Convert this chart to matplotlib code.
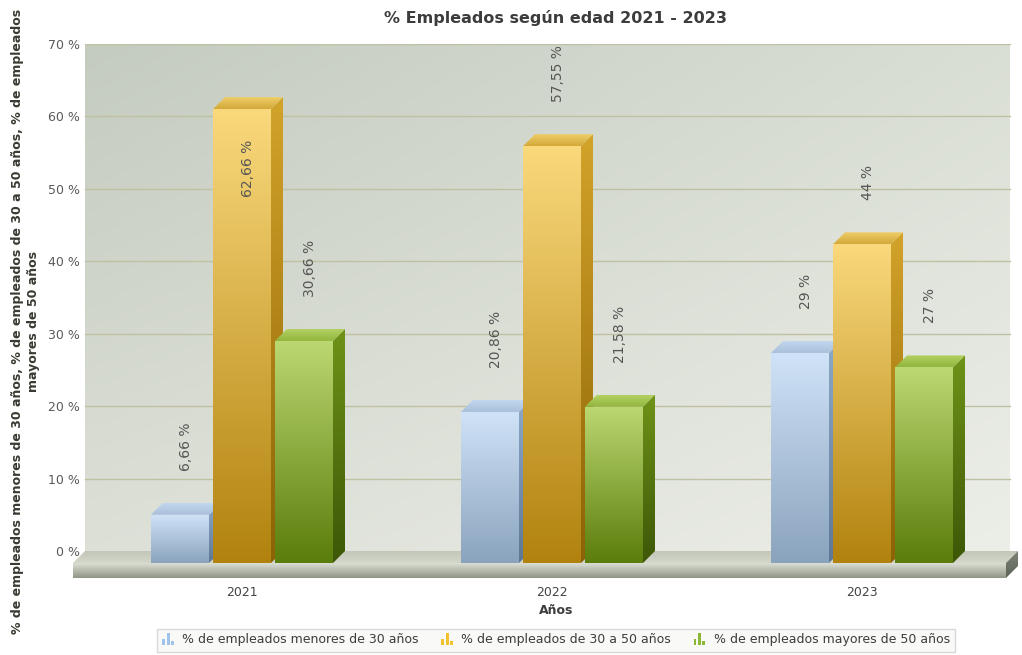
import numpy as np
import matplotlib
matplotlib.use("Agg")
import matplotlib.pyplot as plt
from matplotlib.patches import Polygon, Rectangle
from matplotlib.colors import LinearSegmentedColormap, to_rgb
from matplotlib.legend_handler import HandlerBase

# ---- datos ----
anios = ["2021", "2022", "2023"]
series = [
    "% de empleados menores de 30 años",
    "% de empleados de 30 a 50 años",
    "% de empleados mayores de 50 años",
]
menores_30 = [6.66, 20.86, 29]
de_30_a_50 = [62.66, 57.55, 44]
mayores_50 = [30.66, 21.58, 27]
valores = [menores_30, de_30_a_50, mayores_50]
etiquetas = [
    ["6,66 %", "20,86 %", "29 %"],
    ["62,66 %", "57,55 %", "44 %"],
    ["30,66 %", "21,58 %", "27 %"],
]

# colores por serie: frente (arriba, abajo), lateral (arriba, abajo), tapa
estilos = [
    dict(front=("#d0e3f8", "#8aa3bd"), side=("#8ea9c8", "#5d7794"), top=("#c2d7ef", "#a9c0da"),
         icon="#9fc3ea"),
    dict(front=("#fad97c", "#b1820e"), side=("#d3a42a", "#8b6205"), top=("#f0cd67", "#d2a93a"),
         icon="#f2c12e"),
    dict(front=("#bcd872", "#5b7d0b"), side=("#6f9318", "#3d5707"), top=("#b2d162", "#92b63e"),
         icon="#8cb834"),
]

# ---- geometría (px -> datos) ----
W, H = 1022, 655
plano_izq, plano_der, plano_sup, plano_inf = 85, 1010, 44, 551
px_x = 310.0
px_y = (plano_inf - plano_sup) / 70.0
x0 = -169 / px_x
x1 = 2 + (plano_der - 874) / px_x
DX = 12 / px_x
DY = 12 / px_y
GROSOR = 15 / px_y
ANCHO = 58 / px_x
PASO = 62 / px_x
xr = x1 + 8 / px_x
ybot = -DY - GROSOR

# ejes que incluyen el suelo en perspectiva
ax_l = plano_izq - 12
ax_r = plano_der + 8
ax_b = plano_inf + 27

plt.rcParams["font.family"] = ["DejaVu Sans"]
fig = plt.figure(figsize=(W / 100, H / 100), dpi=100)
ax = fig.add_axes([ax_l / W, 1 - ax_b / H, (ax_r - ax_l) / W, (ax_b - plano_sup) / H])


def cara(verts, c_top, c_bottom, z):
    poly = Polygon(verts, closed=True, facecolor="none", edgecolor="none", zorder=z)
    ax.add_patch(poly)
    xs = [v[0] for v in verts]
    ys = [v[1] for v in verts]
    cmap = LinearSegmentedColormap.from_list("g", [c_bottom, c_top])
    grad = np.linspace(0, 1, 256).reshape(-1, 1)
    im = ax.imshow(grad, cmap=cmap, extent=(min(xs), max(xs), min(ys), max(ys)),
                   origin="lower", aspect="auto", interpolation="bilinear", zorder=z)
    im.set_clip_path(poly)
    return im


# fondo del área de trazado
esq = np.array([[to_rgb("#dde0d7"), to_rgb("#eceee8")],
                [to_rgb("#c4cbbf"), to_rgb("#dadfd5")]])
ty = np.linspace(0, 1, 100)[:, None, None]
tx = np.linspace(0, 1, 160)[None, :, None]
fondo = ((1 - ty) * ((1 - tx) * esq[0, 0] + tx * esq[0, 1])
         + ty * ((1 - tx) * esq[1, 0] + tx * esq[1, 1]))
ax.imshow(fondo, extent=(x0, x1, 0, 70), origin="lower", aspect="auto", zorder=0)

for yv in range(10, 71, 10):
    ax.plot([x0, x1], [yv, yv], color="#bec1a2", lw=1, zorder=0.5)

# suelo
cara([(x0, 0), (xr, 0), (xr - DX, -DY), (x0 - DX, -DY)], "#c3c7b8", "#d3d6ca", 1)
cara([(x0 - DX, -DY), (xr - DX, -DY), (xr - DX, ybot), (x0 - DX, ybot)],
     "#dcdfd4", "#8f9585", 1)
cara([(xr, 0), (xr, -GROSOR), (xr - DX, ybot), (xr - DX, -DY)],
     "#7d8276", "#5e6358", 1)

# barras 3D
x = np.arange(len(anios))
z = 2
for i in range(len(anios)):
    for s in range(len(series)):
        v = valores[s][i]
        est = estilos[s]
        c = x[i] + (s - 1) * PASO
        l, r = c - ANCHO / 2, c + ANCHO / 2
        cara([(l - DX, -DY), (r - DX, -DY), (r - DX, v - DY), (l - DX, v - DY)],
             est["front"][0], est["front"][1], z)
        cara([(r - DX, -DY), (r, 0), (r, v), (r - DX, v - DY)],
             est["side"][0], est["side"][1], z)
        cara([(l - DX, v - DY), (r - DX, v - DY), (r, v), (l, v)],
             est["top"][0], est["top"][1], z)
        z += 1

        # etiqueta de valor
        if v > 60:
            ax.annotate(etiquetas[s][i], (c - DX / 2, v), xytext=(0, -43),
                        textcoords="offset pixels", rotation=90, ha="center", va="top",
                        fontsize=10, color="#555555", zorder=50)
        else:
            ax.annotate(etiquetas[s][i], (c - DX / 2, v), xytext=(0, 32),
                        textcoords="offset pixels", rotation=90, ha="center", va="bottom",
                        fontsize=10, color="#555555", zorder=50)

ax.set_xlim(x0 - DX, xr)
ax.set_ylim(ybot, 70)
for sp in ax.spines.values():
    sp.set_visible(False)
ax.set_yticks(range(0, 71, 10))
ax.set_yticklabels([f"{t} %" for t in range(0, 71, 10)])
ax.set_xticks(x - DX)
ax.set_xticklabels(anios)
ax.tick_params(axis="y", length=0, pad=-5, labelsize=9, labelcolor="#5a5a5a")
ax.tick_params(axis="x", length=0, pad=6, labelsize=9, labelcolor="#444444")

# títulos
fig.text(556 / W, 1 - 18 / H, "% Empleados según edad 2021 - 2023", ha="center", va="center",
         fontsize=11.5, fontweight="bold", color="#3c3c3c")
fig.text(556 / W, 1 - 611 / H, "Años", ha="center", va="center",
         fontsize=9, fontweight="bold", color="#3c3c3c")
fig.text(26 / W, 1 - 321 / H,
         "% de empleados menores de 30 años, % de empleados de 30 a 50 años, % de empleados\n"
         "mayores de 50 años",
         rotation=90, ha="center", va="center", multialignment="center", linespacing=1.3,
         fontsize=9, fontweight="bold", color="#3a3a32")


# leyenda con icono de tres barritas
class IconoBarras(HandlerBase):
    def create_artists(self, legend, orig_handle, xdescent, ydescent, width, height,
                       fontsize, trans):
        color = orig_handle.get_facecolor()
        bw = width / 4.5
        arts = []
        for k, h in enumerate([0.5, 1.1, 0.35]):
            arts.append(Rectangle((-xdescent + k * bw * 1.6, -ydescent), bw, h * height,
                                  facecolor=color, edgecolor="none", transform=trans))
        return arts


handles = [Rectangle((0, 0), 1, 1, facecolor=e["icon"]) for e in estilos]
leg = fig.legend(handles, series, loc="center", bbox_to_anchor=(556 / W, 1 - 640 / H),
                 ncol=3, fontsize=9, frameon=True, fancybox=False, edgecolor="#cfcfcf",
                 facecolor="#f8f8f6", handlelength=1.0, handleheight=1.0, handletextpad=0.6,
                 columnspacing=1.8, borderpad=0.4,
                 handler_map={Rectangle: IconoBarras()})
for t in leg.get_texts():
    t.set_color("#3c3c3c")
leg.get_frame().set_linewidth(1)

fig.savefig("out.png", dpi=100, facecolor="white")
